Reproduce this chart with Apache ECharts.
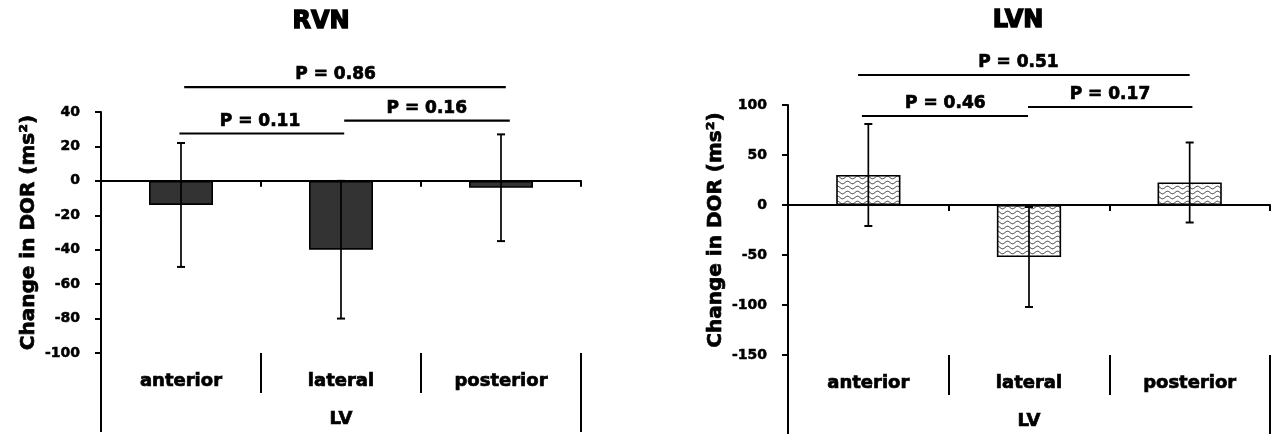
<!DOCTYPE html>
<html><head><meta charset="utf-8">
<script src="https://cdn.jsdelivr.net/npm/echarts@6/dist/echarts.min.js"></script>
<style>html,body{margin:0;padding:0;background:#fff}#c{width:1274px;height:435px}</style>
</head><body><div id="c"></div>
<script>
// ---- data ----
const categories = ['anterior', 'lateral', 'posterior'];
const groupLabel = ['LV'];
const titles = ['RVN', 'LVN'];
const yName = 'Change in DOR (ms²)';
const rvnMean = [-14, -40, -4];
const rvnSD = [36, 40, 31];
const lvnMean = [30, -52, 22.5];
const lvnSD = [51, 50, 40];
const rvnTicks = [-100, 40, 20];   // min, max, interval
const lvnTicks = [-150, 100, 50];
// significance brackets: start, end (category units), y value, label position, label
const rvnSig = [
  [0.52, 2.53, 54.5, 1.466, 'P = 0.86'],
  [0.49, 1.52, 27.5, 0.994, 'P = 0.11'],
  [1.52, 2.555, 35, 2.036, 'P = 0.16']
];
const lvnSig = [
  [0.436, 2.5, 130, 1.434, 'P = 0.51'],
  [0.46, 1.494, 89, 0.979, 'P = 0.46'],
  [1.494, 2.517, 98, 2.004, 'P = 0.17']
];

// ---- styling ----
const FONT = 'DejaVu Sans';
const HEAVY = { textBorderColor: '#000', textBorderWidth: 0.7 };
function wavePattern() {
  const c = document.createElement('canvas');
  c.width = 10; c.height = 5;
  const g = c.getContext('2d');
  g.fillStyle = '#fff'; g.fillRect(0, 0, 10, 5);
  g.strokeStyle = '#333'; g.lineWidth = 1;
  g.beginPath();
  for (let x = 0; x <= 10; x += 0.5) {
    const y = 2.5 + 1.3 * Math.sin(x / 10 * 2 * Math.PI);
    if (x === 0) g.moveTo(x, y); else g.lineTo(x, y);
  }
  g.stroke();
  return c;
}

const grids = [
  { left: 101, right: 693, top: 112, bottom: 82 },
  { left: 788, right: 4, top: 105, bottom: 80 }
];
const panels = [
  { mean: rvnMean, sd: rvnSD, ticks: rvnTicks, sig: rvnSig, fill: '#333333' },
  { mean: lvnMean, sd: lvnSD, ticks: lvnTicks, sig: lvnSig, fill: { image: wavePattern(), repeat: 'repeat' } }
];

const xAxis = [], yAxis = [], series = [];
const blackLine = { color: '#000', width: 2 };
panels.forEach((p, i) => {
  xAxis.push({
    type: 'category', gridIndex: i, data: categories, position: 'bottom',
    axisLine: { onZero: true, lineStyle: blackLine },
    axisTick: { show: true, length: 6, lineStyle: blackLine },
    axisLabel: { show: false }
  });
  xAxis.push({
    type: 'category', gridIndex: i, data: categories, position: 'bottom',
    axisLine: { show: false, onZero: false },
    axisTick: { show: true, length: 40, lineStyle: blackLine },
    axisLabel: Object.assign({ show: true, margin: 19, color: '#000', fontFamily: FONT, fontWeight: 'bold', fontSize: 18 }, HEAVY)
  });
  xAxis.push({
    type: 'category', gridIndex: i, data: groupLabel, position: 'bottom',
    axisLine: { show: false, onZero: false },
    axisTick: { show: true, length: 79, lineStyle: blackLine },
    axisLabel: Object.assign({ show: true, margin: 57, color: '#000', fontFamily: FONT, fontWeight: 'bold', fontSize: 18 }, HEAVY)
  });
  xAxis.push({ type: 'value', gridIndex: i, min: 0, max: 3, show: false });
  yAxis.push({
    type: 'value', gridIndex: i, min: p.ticks[0], max: p.ticks[1], interval: p.ticks[2],
    axisLine: { show: true, onZero: false, lineStyle: blackLine },
    axisTick: { show: true, length: 6, lineStyle: blackLine },
    axisLabel: Object.assign({ margin: 21, color: '#000', fontFamily: FONT, fontWeight: 'bold', fontSize: 14 }, { textBorderColor: '#000', textBorderWidth: 0.5 }),
    splitLine: { show: false },
    name: yName, nameLocation: 'middle', nameGap: 62,
    nameTextStyle: Object.assign({ color: '#000', fontFamily: FONT, fontWeight: 'bold', fontSize: 20 }, HEAVY)
  });
  series.push({
    type: 'bar', xAxisIndex: 4 * i, yAxisIndex: i, data: p.mean, barWidth: '40%',
    itemStyle: { color: p.fill, borderColor: '#000', borderWidth: 1.6 },
    silent: true, animation: false
  });
  series.push({
    type: 'custom', xAxisIndex: 4 * i, yAxisIndex: i, clip: false, z: 5, animation: false,
    data: p.mean.map((m, k) => [k, m - p.sd[k], m + p.sd[k]]),
    encode: { x: 0, y: [1, 2] },
    renderItem(params, api) {
      const x = api.value(0);
      const lo = api.coord([x, api.value(1)]);
      const hi = api.coord([x, api.value(2)]);
      const cx = lo[0], w = 4;
      return {
        type: 'group', children: [
          { type: 'line', shape: { x1: cx, y1: hi[1], x2: cx, y2: lo[1] }, style: { stroke: '#000', lineWidth: 1.7 } },
          { type: 'line', shape: { x1: cx - w, y1: hi[1], x2: cx + w, y2: hi[1] }, style: { stroke: '#000', lineWidth: 2 } },
          { type: 'line', shape: { x1: cx - w, y1: lo[1], x2: cx + w, y2: lo[1] }, style: { stroke: '#000', lineWidth: 2 } }
        ]
      };
    }
  });
  series.push({
    type: 'custom', xAxisIndex: 4 * i + 3, yAxisIndex: i, clip: false, z: 6, animation: false,
    data: p.sig.map(s => [s[0], s[1], s[2], s[3]]),
    encode: { x: [0, 1, 3], y: 2 },
    renderItem(params, api) {
      const y = api.value(2);
      const a = api.coord([api.value(0), y]);
      const b = api.coord([api.value(1), y]);
      const l = api.coord([api.value(3), y]);
      return {
        type: 'group', children: [
          { type: 'line', shape: { x1: a[0], y1: a[1], x2: b[0], y2: b[1] }, style: { stroke: '#000', lineWidth: 2.2 } },
          { type: 'text', x: l[0], y: l[1] - 12, style: {
              text: p.sig[params.dataIndex][4], align: 'center', verticalAlign: 'middle',
              font: 'bold 17px "' + FONT + '"', fill: '#000', stroke: '#000', lineWidth: 0.7 } }
        ]
      };
    }
  });
});

const chart = echarts.init(document.getElementById('c'), null, { renderer: 'canvas' });
chart.setOption({
  animation: false,
  backgroundColor: '#fff',
  title: [
    { text: titles[0], left: 321, top: 10, textAlign: 'center', padding: 0,
      textStyle: { fontFamily: FONT, fontWeight: 'bold', fontSize: 24, color: '#000', textBorderColor: '#000', textBorderWidth: 1.4 } },
    { text: titles[1], left: 1018, top: 9, textAlign: 'center', padding: 0,
      textStyle: { fontFamily: FONT, fontWeight: 'bold', fontSize: 24, color: '#000', textBorderColor: '#000', textBorderWidth: 1.4 } }
  ],
  grid: grids,
  xAxis: xAxis,
  yAxis: yAxis,
  series: series
});
</script>
</body></html>
